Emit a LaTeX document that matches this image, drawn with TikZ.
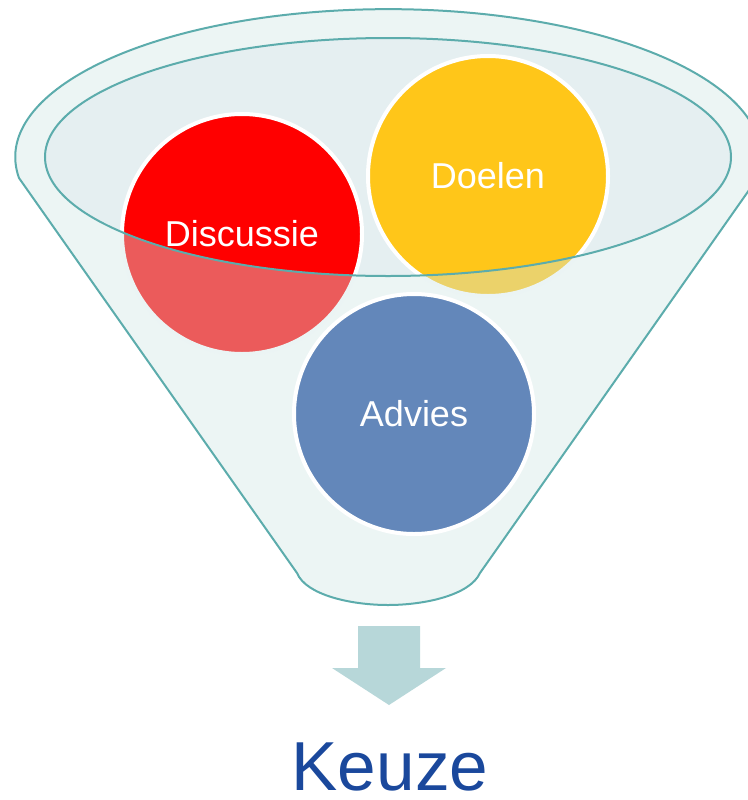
\documentclass[tikz,border=0pt]{standalone}
\usepackage{fontspec}
\setmainfont{Liberation Sans}

\definecolor{funnelline}{RGB}{92,172,172}
\definecolor{funnelveil}{RGB}{207,229,228}
\definecolor{rimfill}{RGB}{229,239,241}
\definecolor{discred}{RGB}{255,0,0}
\definecolor{doelgold}{RGB}{255,198,25}
\definecolor{adviesblue}{RGB}{99,135,186}
\definecolor{arrowgrey}{RGB}{183,215,217}
\definecolor{keuzeblue}{RGB}{26,72,156}

\tikzset{every picture/.style={line width=0.75pt}}
\tikzset{
  ball/.style={circle, draw=white, line width=3pt, minimum size=180pt, inner sep=0pt, outer sep=0pt,
    text=white, font=\fontsize{27}{32}\selectfont},
  rimline/.style={draw=funnelline, line width=1.5pt}
}

% outline of the funnel body
\newcommand{\funnelbody}{(19,178) arc[start angle=171.9, end angle=368.1, x radius=373, y radius=148]
  -- (480,573) .. controls (470,595) and (425,605) .. (388,605)
  .. controls (351,605) and (306,595) .. (297,573) -- cycle}

\begin{document}
\begin{tikzpicture}[x=0.75pt,y=0.75pt,yscale=-1,xscale=1]
	\useasboundingbox (0,0) rectangle (748,800);
	\clip (0,0) rectangle (748,800);

	%Shape: Ellipse (opening)
	\fill [rimfill] (388,157) ellipse [x radius=343, y radius=119] ;

	% Circles inside the opening
	\node [ball, fill=discred] (discussie) at (242,234) {Discussie};
	\node [ball, fill=doelgold] (doelen) at (488,176) {Doelen};

	%Shape: Funnel front (see-through)
	\fill [funnelveil, fill opacity=0.4, even odd rule] \funnelbody (388,157) ellipse [x radius=343, y radius=119] ;

	% Circle in front
	\node [ball, fill=adviesblue] (advies) at (414,414) {Advies};

	%Shape: Funnel outlines
	\draw [rimline] \funnelbody ;
	\draw [rimline] (388,157) ellipse [x radius=343, y radius=119] ;

	%Shape: Block arrow
	\fill [arrowgrey] (358,626) -- (420,626) -- (420,668) -- (446,668) -- (389,705) -- (332,668) -- (358,668) -- cycle ;

	% Text Node
	\node [text=keuzeblue, inner sep=0pt, font=\fontsize{52}{60}\selectfont] (keuze) at (390,767) {Keuze};

\end{tikzpicture}
\end{document}
